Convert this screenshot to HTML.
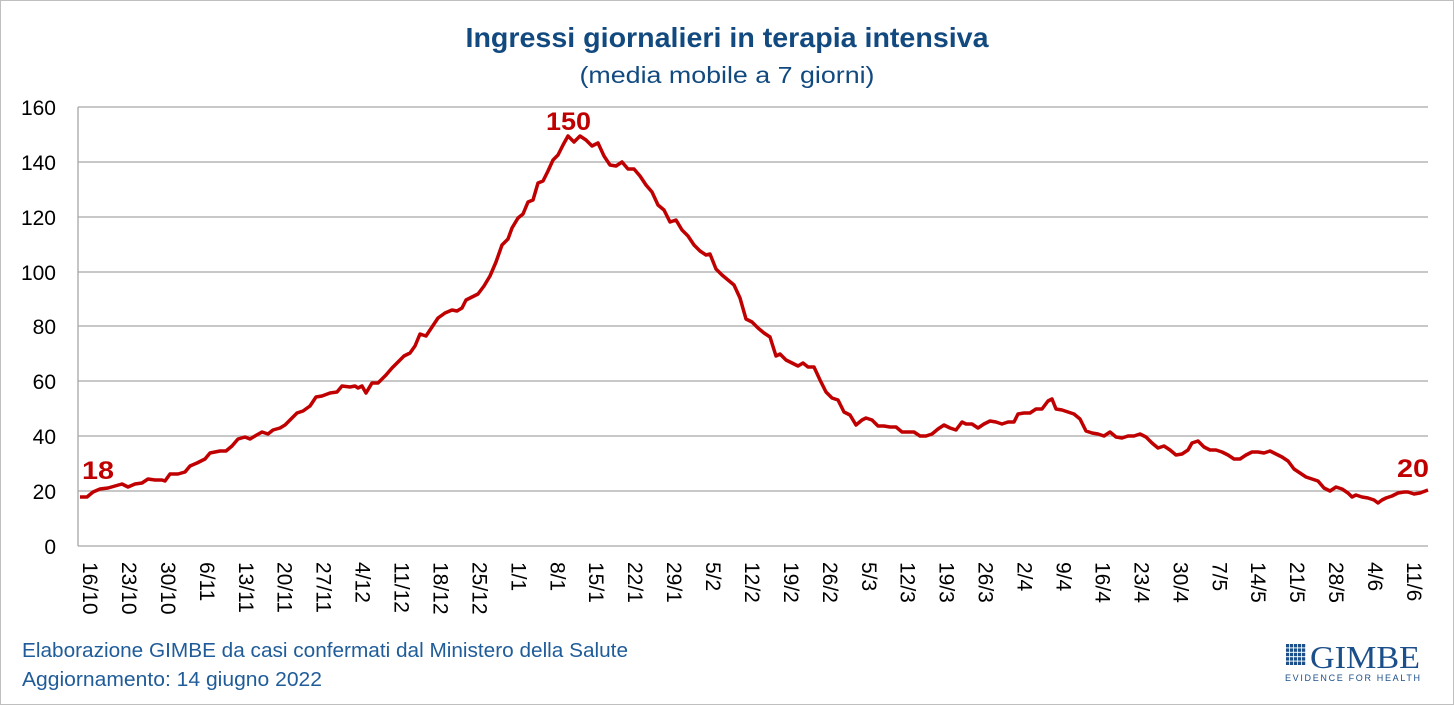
<!DOCTYPE html>
<html><head><meta charset="utf-8"><style>
html,body{margin:0;padding:0;background:#fff}
svg{display:block;font-family:"Liberation Sans",sans-serif}
</style></head><body>
<svg width="1454" height="705" viewBox="0 0 1454 705" xmlns="http://www.w3.org/2000/svg">
<rect x="0.5" y="0.5" width="1453" height="704" fill="#fff" stroke="#bfbfbf"/>
<text x="727" y="47" text-anchor="middle" font-size="28" font-weight="bold" fill="#124a80" textLength="523" lengthAdjust="spacingAndGlyphs">Ingressi giornalieri in terapia intensiva</text>
<text x="727" y="83" text-anchor="middle" font-size="23" fill="#124a80" textLength="295" lengthAdjust="spacingAndGlyphs">(media mobile a 7 giorni)</text>
<g stroke="#a6a6a6" stroke-width="1.3">
<line x1="78" y1="107" x2="1428" y2="107"/>
<line x1="78" y1="162" x2="1428" y2="162"/>
<line x1="78" y1="217" x2="1428" y2="217"/>
<line x1="78" y1="272" x2="1428" y2="272"/>
<line x1="78" y1="326" x2="1428" y2="326"/>
<line x1="78" y1="381" x2="1428" y2="381"/>
<line x1="78" y1="436" x2="1428" y2="436"/>
<line x1="78" y1="491" x2="1428" y2="491"/>
<line x1="78" y1="546" x2="1428" y2="546"/>
<line x1="78" y1="107" x2="78" y2="546"/>
</g>
<g font-size="21" fill="#000" text-anchor="end">
<text x="56" y="554">0</text><text x="56" y="499">20</text><text x="56" y="444">40</text><text x="56" y="389">60</text><text x="56" y="334">80</text><text x="56" y="280">100</text><text x="56" y="225">120</text><text x="56" y="170">140</text><text x="56" y="115">160</text>
</g>
<g font-size="21" fill="#000" id="xl"></g>
<polyline fill="none" stroke="#c00000" stroke-width="3.5" stroke-linejoin="round" points="80,497 87,497 93,492 100,489 108,488 115,486 122,484 128,487 135,484 142,483 148,479 155,480 162,480 165,481 170,474 178,474 185,472 190,466 197,463 205,459 210,453 220,451 226,451 232,446 238,439 245,437 250,439 255,436 262,432 268,434 273,430 280,428 285,425 290,420 297,413 303,411 310,406 316,397 322,396 330,393 337,392 342,386 350,387 355,386 358,388 362,386 366,393 372,383 378,383 386,375 392,368 398,362 404,356 410,353 415,346 420,334 426,336 432,327 438,318 445,313 452,310 457,311 462,308 466,300 472,297 478,294 484,286 490,276 496,262 502,245 508,239 512,228 518,218 523,214 528,202 533,200 538,183 543,181 548,171 553,160 558,155 563,145 568,136 574,142 580,136 586,140 592,146 598,143 604,156 610,165 616,166 622,162 628,169 634,169 640,176 646,185 652,192 658,205 664,210 670,222 676,220 682,230 688,236 694,245 700,251 706,255 710,254 716,269 722,275 728,280 734,285 740,298 746,319 752,322 758,328 764,333 770,337 776,356 780,354 786,360 792,363 798,366 803,363 808,367 814,367 820,380 826,392 832,398 838,400 844,412 850,415 856,425 862,420 866,418 872,420 878,426 884,426 890,427 896,427 902,432 908,432 914,432 920,436 926,436 932,434 938,429 944,425 950,428 956,430 962,422 966,424 972,424 978,428 984,424 990,421 996,422 1002,424 1008,422 1014,422 1018,414 1024,413 1030,413 1036,409 1042,409 1048,401 1052,399 1056,409 1062,410 1068,412 1074,414 1080,419 1086,431 1092,433 1098,434 1104,436 1110,432 1116,437 1122,438 1128,436 1134,436 1140,434 1146,437 1152,443 1158,448 1164,446 1170,450 1176,455 1182,454 1188,450 1192,443 1198,441 1204,447 1210,450 1216,450 1222,452 1228,455 1234,459 1240,459 1246,455 1252,452 1258,452 1264,453 1270,451 1276,454 1282,457 1288,461 1294,469 1300,473 1306,477 1312,479 1318,481 1324,488 1330,491 1336,487 1342,489 1348,493 1352,497 1356,495 1362,497 1368,498 1374,500 1378,503 1382,500 1386,498 1392,496 1398,493 1404,492 1408,492 1414,494 1420,493 1428,490"/>
<g font-size="25" font-weight="bold" fill="#c00000">
<text x="82" y="479" textLength="32" lengthAdjust="spacingAndGlyphs">18</text>
<text x="546" y="130" textLength="45" lengthAdjust="spacingAndGlyphs">150</text>
<text x="1397" y="477" textLength="32" lengthAdjust="spacingAndGlyphs">20</text>
</g>
<g font-size="20" fill="#1f5c99">
<text x="22" y="657" textLength="606" lengthAdjust="spacingAndGlyphs">Elaborazione GIMBE da casi confermati dal Ministero della Salute</text>
<text x="22" y="686" textLength="300" lengthAdjust="spacingAndGlyphs">Aggiornamento: 14 giugno 2022</text>
</g>
<g fill="#1b4f8a">
<g id="grid"></g>
<text x="1310" y="668" font-family="Liberation Serif,serif" font-size="32" textLength="110" lengthAdjust="spacingAndGlyphs">GIMBE</text>
<text x="1285" y="681" font-size="9" textLength="135" lengthAdjust="spacing">EVIDENCE FOR HEALTH</text>
</g>
<script>
(function(){
var labs="16/10,23/10,30/10,6/11,13/11,20/11,27/11,4/12,11/12,18/12,25/12,1/1,8/1,15/1,22/1,29/1,5/2,12/2,19/2,26/2,5/3,12/3,19/3,26/3,2/4,9/4,16/4,23/4,30/4,7/5,14/5,21/5,28/5,4/6,11/6".split(",");
var g=document.getElementById("xl"),ns="http://www.w3.org/2000/svg";
labs.forEach(function(l,i){var x=90+i*38.94;var t=document.createElementNS(ns,"text");t.setAttribute("x",x-7);t.setAttribute("y",562);t.setAttribute("transform","rotate(90 "+(x-7)+" 562)");t.textContent=l;g.appendChild(t);});
var gr=document.getElementById("grid");
for(var r=0;r<5;r++)for(var c=0;c<5;c++){var q=document.createElementNS(ns,"rect");q.setAttribute("x",1286+c*4);q.setAttribute("y",644+r*4.4);q.setAttribute("width",3.2);q.setAttribute("height",3.4);gr.appendChild(q);}
})();
</script>
</svg>
</body></html>
